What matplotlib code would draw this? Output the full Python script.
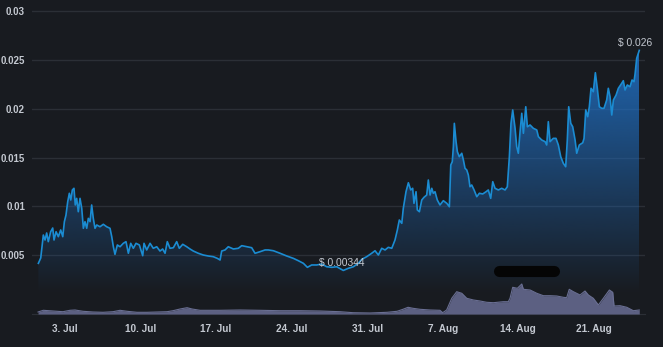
import matplotlib

matplotlib.use("Agg")
import matplotlib.dates as mdates  # noqa: E402
import matplotlib.pyplot as plt  # noqa: E402
import numpy as np  # noqa: E402
import pandas as pd  # noqa: E402

# %%
# Data (days after 3 Jul, price in USD)

start = pd.Timestamp("2023-07-03")

price_days = [
    -2.47, -2.25, -2.01, -1.85, -1.70, -1.55, -1.33, -1.14, -1.02, -0.83, -0.62, -0.40, -0.21,
    -0.06, 0.09, 0.25, 0.40, 0.53, 0.68, 0.83, 0.95, 1.08, 1.23, 1.39, 1.55, 1.70, 1.85, 2.01,
    2.16, 2.32, 2.47, 2.62, 2.78, 2.94, 3.24, 3.55, 3.86, 4.17, 4.33, 4.48, 4.63, 4.85, 5.10,
    5.40, 5.65, 5.87, 6.09, 6.33, 6.58, 6.89, 7.20, 7.32, 7.57, 7.88, 8.18, 8.50, 8.80, 9.05,
    9.27, 9.48, 9.73, 10.04, 10.35, 10.59, 10.91, 11.28, 11.58, 11.89, 12.35, 12.82, 13.28,
    13.74, 14.11, 14.37, 14.52, 14.83, 15.13, 15.60, 16.06, 16.38, 16.84, 17.30, 17.61, 18.07,
    18.54, 18.84, 19.31, 19.93, 20.55, 21.16, 21.62, 22.09, 22.46, 22.86, 23.33, 23.79, 24.25,
    24.72, 25.18, 25.79, 26.26, 26.72, 27.18, 27.50, 27.96, 28.42, 28.73, 29.04, 29.35, 29.66,
    29.96, 30.28, 30.58, 30.80, 30.98, 31.21, 31.35, 31.60, 31.82, 32.04, 32.22, 32.34, 32.53,
    32.65, 32.84, 33.06, 33.27, 33.52, 33.67, 33.83, 33.99, 34.13, 34.29, 34.50, 34.75, 35.06,
    35.38, 35.62, 35.75, 35.89, 35.99, 36.08, 36.24, 36.36, 36.54, 36.77, 36.92, 37.07, 37.23,
    37.38, 37.53, 37.69, 37.91, 38.16, 38.40, 38.71, 39.02, 39.23, 39.45, 39.64, 39.85, 40.16,
    40.47, 40.78, 40.99, 41.18, 41.33, 41.49, 41.71, 41.86, 42.01, 42.17, 42.33, 42.48, 42.70,
    42.85, 43.10, 43.40, 43.72, 43.87, 44.18, 44.49, 44.64, 44.79, 44.95, 45.25, 45.50, 45.72,
    45.94, 46.18, 46.40, 46.55, 46.68, 46.87, 47.05, 47.27, 47.42, 47.66, 47.98, 48.10, 48.26,
    48.44, 48.59, 48.75, 48.96, 49.15, 49.33, 49.52, 49.74, 49.95, 50.20, 50.35, 50.51, 50.67,
    50.82, 51.07, 51.28, 51.59, 51.74, 51.90, 52.11, 52.36, 52.55, 52.73, 52.83, 52.98, 53.13,
    53.22,
]
price = [
    0.00417, 0.00472, 0.00707, 0.00656, 0.00728, 0.00639, 0.00741, 0.00779, 0.00656, 0.00741,
    0.00690, 0.00759, 0.00690, 0.00844, 0.00912, 0.01049, 0.01135, 0.01066, 0.01169, 0.01186,
    0.01015, 0.01083, 0.00946, 0.01083, 0.00981, 0.00776, 0.00844, 0.00776, 0.00878, 0.00844,
    0.01015, 0.00878, 0.00776, 0.00810, 0.00792, 0.00817, 0.00792, 0.00776, 0.00690, 0.00587,
    0.00509, 0.00605, 0.00587, 0.00622, 0.00639, 0.00520, 0.00622, 0.00571, 0.00622, 0.00605,
    0.00495, 0.00622, 0.00554, 0.00622, 0.00571, 0.00587, 0.00543, 0.00564, 0.00520, 0.00639,
    0.00571, 0.00577, 0.00639, 0.00571, 0.00612, 0.00587, 0.00564, 0.00543, 0.00520, 0.00502,
    0.00492, 0.00485, 0.00468, 0.00451, 0.00543, 0.00554, 0.00587, 0.00564, 0.00571, 0.00598,
    0.00587, 0.00577, 0.00520, 0.00536, 0.00554, 0.00554, 0.00546, 0.00520, 0.00492, 0.00468,
    0.00444, 0.00417, 0.00376, 0.00400, 0.00400, 0.00410, 0.00382, 0.00376, 0.00382, 0.00344,
    0.00366, 0.00382, 0.00417, 0.00458, 0.00485, 0.00520, 0.00546, 0.00502, 0.00571, 0.00554,
    0.00581, 0.00571, 0.00656, 0.00759, 0.00861, 0.00827, 0.00980, 0.01151, 0.01243, 0.01169,
    0.01186, 0.01032, 0.01151, 0.00964, 0.00946, 0.01066, 0.01094, 0.01117, 0.01271, 0.01117,
    0.01186, 0.01135, 0.01151, 0.01066, 0.01015, 0.01059, 0.01032, 0.00997, 0.01425, 0.01459,
    0.01612, 0.01852, 0.01664, 0.01561, 0.01510, 0.01545, 0.01476, 0.01391, 0.01374, 0.01322,
    0.01202, 0.01220, 0.01169, 0.01100, 0.01135, 0.01128, 0.01151, 0.01169, 0.01083, 0.01254,
    0.01186, 0.01169, 0.01186, 0.01169, 0.01202, 0.01510, 0.01852, 0.01989, 0.01801, 0.01612,
    0.01545, 0.01766, 0.01955, 0.01750, 0.02022, 0.01817, 0.01835, 0.01801, 0.01784, 0.01715,
    0.01681, 0.01664, 0.01630, 0.01869, 0.01664, 0.01698, 0.01698, 0.01630, 0.01510, 0.01442,
    0.01407, 0.01681, 0.02022, 0.01852, 0.01817, 0.01681, 0.01545, 0.01630, 0.01653, 0.01698,
    0.01989, 0.01920, 0.02022, 0.02211, 0.02176, 0.02371, 0.02211, 0.02022, 0.02006, 0.02006,
    0.02091, 0.02211, 0.02125, 0.01937, 0.02091, 0.02142, 0.02211, 0.02262, 0.02289, 0.02194,
    0.02245, 0.02227, 0.02296, 0.02279, 0.02358, 0.02518, 0.02570, 0.02600,
]

# volume, thousands USD
volume_days = [
    -2.50, -2.01, -1.11, -0.19, 0.46, 0.93, 1.67, 2.59, 3.52, 4.45,
    5.10, 5.75, 6.67, 7.60, 8.53, 9.45, 10.01, 10.66, 11.31, 11.77,
    12.51, 13.44, 14.37, 16.22, 18.07, 19.93, 21.78, 23.63, 25.48, 26.69,
    28.27, 29.84, 30.77, 31.32, 31.79, 32.25, 32.90, 33.83, 34.75, 35.00,
    35.37, 35.84, 36.30, 36.77, 37.23, 37.85, 38.46, 39.08, 39.70, 40.62,
    41.08, 41.24, 41.49, 41.92, 42.33, 42.48, 43.10, 43.72, 44.33, 44.95,
    45.57, 46.18, 46.49, 46.73, 47.11, 47.73, 48.19, 48.50, 48.96, 49.43,
    49.89, 50.45, 50.76, 50.88, 51.44, 52.06, 52.67, 53.22,
]
volume = [
    40, 74, 60, 46, 74, 80, 54, 40, 34, 46,
    74, 54, 34, 34, 40, 46, 66, 100, 126, 100,
    74, 74, 74, 80, 74, 66, 66, 60, 46, 26,
    20, 34, 54, 94, 134, 114, 94, 80, 74, 26,
    80, 314, 446, 414, 314, 280, 260, 234, 226, 246,
    246, 314, 534, 514, 600, 494, 480, 414, 366, 366,
    360, 334, 326, 494, 446, 380, 460, 380, 314, 180,
    314, 480, 434, 160, 166, 134, 66, 80,
]

tick_dates = pd.date_range("2023-07-03", periods=8, freq="7D")
price_ticks = [0.005, 0.01, 0.015, 0.02, 0.025, 0.03]

bg = "#181b20"
grid_c = "#2b2f36"
text_c = "#c3c8d0"
line_c = "#1b8cd2"

plt.rcParams["font.family"] = ["Liberation Sans", "DejaVu Sans"]

x = mdates.date2num(start + pd.to_timedelta(price_days, unit="D"))
xv = mdates.date2num(start + pd.to_timedelta(volume_days, unit="D"))
p = np.array(price)

fig = plt.figure(figsize=(6.63, 3.47), dpi=100, facecolor=bg)
ax = fig.add_axes([32 / 663, 33 / 347, 613 / 663, 309 / 347], facecolor=bg)
xlim = mdates.date2num([start - pd.Timedelta(days=3.06), start + pd.Timedelta(days=53.75)])
ylim = (-0.001025, 0.03065)
ax.set_xlim(*xlim)
ax.set_ylim(*ylim)

# gradient under the price line
base = ylim[0]
poly = ax.fill_between(x, p, base, facecolor="none", edgecolor="none")
ys = np.linspace(ylim[0], ylim[1], 300)
alpha = np.clip((ys - 0.001) / 0.026, 0, 1) * 0.9
rgba = np.zeros((len(ys), 1, 4))
rgba[..., :3] = matplotlib.colors.to_rgb("#2172c8")
rgba[..., 3] = alpha[:, None]
im = ax.imshow(rgba, extent=[x[0], x[-1], ylim[0], ylim[1]], origin="lower",
               aspect="auto", interpolation="bilinear", zorder=1)
im.set_clip_path(poly.get_paths()[0], transform=ax.transData)
ax.plot(x, p, color=line_c, lw=1.2, zorder=3, solid_joinstyle="round")

ax.set_yticks(price_ticks)
ax.set_yticklabels([f"{t:g}" for t in price_ticks])
ax.set_xticks(mdates.date2num(tick_dates))
ax.set_xticklabels([f"{d.day}. {d:%b}" for d in tick_dates])
ax.grid(axis="y", color=grid_c, lw=1.0)
ax.set_axisbelow(True)
ax.tick_params(axis="both", length=0, colors=text_c, labelsize=7.2)
ax.tick_params(axis="y", pad=5, labelsize=7)
ax.tick_params(axis="x", pad=7)
for lab in ax.get_xticklabels() + ax.get_yticklabels():
    lab.set_fontweight("bold")
for side in ["top", "right", "left"]:
    ax.spines[side].set_visible(False)
ax.spines["bottom"].set_color(grid_c)

# min / last labels
i_min = int(np.argmin(p))
ax.annotate(f"$ {p[i_min]:.5f}".rstrip("0"), (x[i_min], p[i_min]), xytext=(-1, 5),
            textcoords="offset points", ha="center", va="center", fontsize=7.4,
            color=text_c, zorder=5)
ax.annotate(f"$ {p[-1]:.3f}", (x[-1], p[-1]), xytext=(-3, 5), textcoords="offset points",
            ha="center", va="center", fontsize=7.4, color=text_c, zorder=5)

# volume on its own scale along the bottom
ax2 = ax.twinx()
ax2.set_ylim(0, 309 * 20)
ax2.fill_between(xv, volume, 0, color="#5c6082", lw=0, zorder=2)
ax2.plot(xv, volume, color="#6a6f93", lw=0.8)
ax2.axis("off")

# blacked-out watermark
ax.plot([0.762, 0.852], [0.139, 0.139], transform=ax.transAxes, color="#050505",
        lw=8, solid_capstyle="round", zorder=6)

fig.savefig("out.png", dpi=100, facecolor=bg)
